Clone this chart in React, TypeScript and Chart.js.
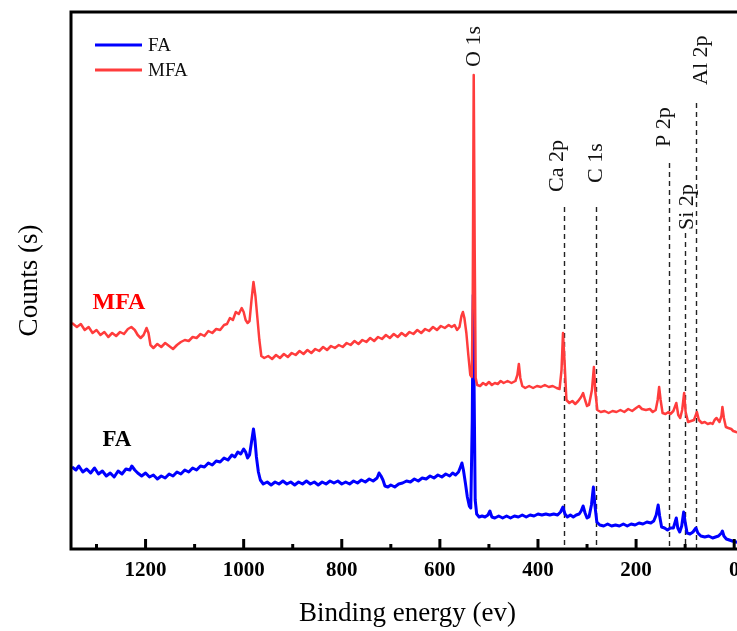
import React, { useEffect, useRef } from "react";
import { Chart, registerables } from "chart.js";

Chart.register(...registerables);

// ---------- DATA ----------
const ENERGY_MFA = [
  1350, 1340, 1332, 1324, 1316, 1308, 1300, 1292, 1284, 1276, 1268, 1260, 1252, 1244, 1236, 1229, 1222, 1216, 1210, 1204,
  1198, 1194, 1190, 1184, 1176, 1168, 1160, 1152, 1144, 1136, 1128, 1120, 1112, 1104, 1096, 1088, 1080, 1072, 1064, 1056,
  1048, 1040, 1034, 1028, 1022, 1016, 1010, 1004, 1000, 996, 992, 988, 984, 980, 976, 972, 968, 964, 958, 950,
  942, 934, 926, 918, 910, 902, 894, 886, 878, 870, 862, 854, 846, 838, 830, 822, 814, 806, 798, 790,
  782, 774, 766, 758, 750, 742, 734, 726, 718, 710, 702, 694, 686, 678, 670, 662, 654, 646, 638, 630,
  622, 614, 606, 598, 590, 582, 576, 570, 565, 560, 556, 553, 550, 546, 542, 538, 535, 533, 531, 529,
  527, 524, 518, 512, 506, 500, 494, 488, 482, 476, 470, 462, 454, 446, 442, 439, 436, 432, 426, 418,
  410, 402, 394, 386, 378, 370, 362, 356, 352, 349, 346, 342, 336, 330, 324, 318, 312, 308, 304, 300,
  296, 290, 286, 283, 279, 272, 264, 256, 248, 240, 232, 224, 216, 208, 200, 194, 188, 180, 172, 166,
  160, 156, 153, 150, 146, 140, 134, 130, 124, 118, 114, 110, 106, 102, 99, 94, 88, 82, 76, 72,
  66, 60, 54, 48, 44, 40, 36, 30, 26, 24, 21, 17, 12, 6, 2, -4, -12, -20,
];
const COUNTS_MFA = [
  226, 222, 225, 219, 222, 216, 219, 214, 217, 212, 216, 213, 217, 215, 220, 222, 219, 214, 211, 214,
  221, 216, 204, 201, 205, 202, 206, 203, 200, 204, 207, 209, 208, 212, 211, 215, 213, 218, 216, 220,
  219, 224, 225, 231, 229, 237, 235, 241, 237, 229, 226, 228, 249, 267, 253, 231, 209, 193, 191, 193,
  190, 194, 191, 195, 192, 196, 194, 198, 195, 199, 196, 200, 198, 202, 199, 203, 201, 204, 202, 206,
  204, 208, 205, 209, 207, 211, 208, 212, 210, 214, 211, 215, 212, 216, 213, 217, 215, 219, 216, 220,
  218, 222, 219, 223, 221, 224, 222, 224, 219, 222, 233, 237, 231, 216, 194, 174, 172, 249, 474, 299,
  171, 164, 163, 166, 164, 167, 164, 166, 165, 168, 166, 168, 166, 168, 174, 185, 171, 163, 161, 163,
  161, 163, 162, 164, 162, 163, 161, 160, 179, 216, 189, 149, 146, 148, 145, 148, 152, 156, 149, 143,
  144, 159, 182, 157, 139, 137, 138, 136, 138, 137, 139, 137, 140, 138, 141, 143, 140, 139, 140, 137,
  139, 149, 162, 149, 136, 135, 137, 135, 138, 146, 134, 131, 139, 156, 137, 127, 128, 129, 137, 129,
  126, 127, 125, 126, 125, 129, 131, 127, 133, 142, 131, 122, 121, 120, 118, 117, 116, 116,
];

const ENERGY_FA = [
  1350, 1342, 1336, 1328, 1320, 1312, 1304, 1296, 1288, 1280, 1272, 1264, 1256, 1248, 1240, 1232, 1228, 1222, 1216, 1208,
  1200, 1192, 1184, 1176, 1168, 1160, 1152, 1144, 1136, 1128, 1120, 1112, 1104, 1096, 1088, 1080, 1072, 1064, 1056, 1048,
  1040, 1032, 1024, 1018, 1012, 1006, 1000, 996, 992, 988, 984, 980, 977, 974, 970, 966, 960, 952, 944, 936,
  928, 920, 912, 904, 896, 888, 880, 872, 864, 856, 848, 840, 832, 824, 816, 808, 800, 792, 784, 776,
  768, 760, 752, 744, 736, 728, 724, 720, 716, 712, 706, 700, 692, 684, 676, 668, 660, 652, 644, 636,
  628, 620, 612, 604, 596, 588, 580, 574, 568, 562, 558, 555, 552, 548, 544, 540, 537, 534, 532, 530,
  528, 525, 520, 514, 508, 502, 498, 494, 488, 480, 472, 464, 456, 448, 440, 432, 424, 416, 408, 400,
  392, 384, 376, 368, 360, 354, 349, 345, 340, 334, 328, 322, 316, 312, 308, 304, 300, 296, 291, 287,
  284, 280, 274, 266, 258, 250, 242, 234, 226, 218, 210, 202, 194, 186, 178, 170, 164, 159, 155, 152,
  148, 142, 136, 130, 124, 118, 115, 111, 107, 103, 100, 96, 90, 84, 78, 74, 68, 60, 52, 44,
  38, 32, 26, 24, 21, 16, 10, 4, -4, -12, -20,
];
const COUNTS_FA = [
  82, 79, 83, 77, 80, 76, 81, 75, 78, 73, 76, 72, 78, 75, 80, 79, 83, 79, 76, 73,
  76, 72, 74, 70, 73, 71, 75, 73, 77, 75, 79, 77, 81, 79, 83, 82, 86, 84, 88, 87,
  91, 89, 94, 92, 97, 95, 100, 97, 91, 94, 107, 120, 109, 92, 77, 69, 65, 67, 64, 67,
  65, 68, 65, 67, 64, 67, 65, 68, 65, 67, 64, 67, 65, 68, 66, 68, 65, 67, 65, 68,
  66, 69, 67, 70, 68, 71, 76, 73, 69, 63, 62, 64, 62, 65, 66, 68, 67, 70, 68, 71,
  70, 73, 71, 74, 72, 75, 73, 76, 74, 77, 82, 86, 79, 66, 52, 43, 41, 129, 254, 149,
  49, 35, 32, 33, 32, 34, 38, 32, 31, 33, 31, 33, 31, 33, 32, 34, 32, 34, 33, 35,
  34, 35, 34, 35, 34, 37, 42, 35, 32, 34, 32, 34, 35, 38, 43, 36, 31, 32, 44, 62,
  44, 27, 24, 23, 25, 23, 24, 23, 25, 23, 25, 24, 26, 25, 27, 26, 28, 34, 44, 33,
  22, 21, 19, 21, 21, 31, 21, 17, 23, 37, 27, 16, 15, 17, 21, 16, 13, 12, 13, 11,
  12, 13, 16, 18, 13, 10, 9, 8, 7, 6, 6,
];

const SERIES_NAMES = ["FA", "MFA"];
const X_MIN = -20;
const X_MAX = 1352;
const Y_MIN = 0;
const Y_MAX = 537;
const X_MAJOR_TICKS = [0, 200, 400, 600, 800, 1000, 1200];
const X_MINOR_TICKS = [100, 300, 500, 700, 900, 1100, 1300];

const PEAK_NAMES = ["Ca 2p", "C 1s", "P 2p", "Si 2p", "Al 2p"];
const PEAK_ENERGY = [347, 282, 132, 101, 77];
const PEAK_LINE_TOP = [342, 342, 386, 316, 446];

const LABEL_NAMES = ["O 1s", "Ca 2p", "C 1s", "P 2p", "Si 2p", "Al 2p"];
const LABEL_ENERGY = [531, 360, 281, 143, 96, 67];
const LABEL_START = [482, 357, 366, 402, 319, 464];

// ---------- STYLE ----------
const SERIF = "'Liberation Serif', 'Times New Roman', serif";
const BLUE = "#0000ff";
const RED = "#ff3c3c";

const decorPlugin = {
  id: "decor",
  beforeDatasetsDraw(chart: any) {
    const { ctx, chartArea, scales } = chart;
    const xs = scales.x;
    const ys = scales.y;
    ctx.save();
    ctx.strokeStyle = "#222";
    ctx.lineWidth = 1.4;
    ctx.setLineDash([5, 4]);
    PEAK_ENERGY.forEach((e, i) => {
      const px = Math.round(xs.getPixelForValue(e)) + 0.5;
      ctx.beginPath();
      ctx.moveTo(px, ys.getPixelForValue(PEAK_LINE_TOP[i]));
      ctx.lineTo(px, chartArea.bottom);
      ctx.stroke();
    });
    ctx.setLineDash([]);
    ctx.fillStyle = "#111";
    ctx.font = `22px ${SERIF}`;
    ctx.textAlign = "left";
    ctx.textBaseline = "middle";
    LABEL_NAMES.forEach((name, i) => {
      ctx.save();
      ctx.translate(xs.getPixelForValue(LABEL_ENERGY[i]), ys.getPixelForValue(LABEL_START[i]));
      ctx.rotate(-Math.PI / 2);
      ctx.fillText(name, 0, 0);
      ctx.restore();
    });
    ctx.restore();
  },
  afterDatasetsDraw(chart: any) {
    const { ctx, chartArea, scales } = chart;
    const xs = scales.x;
    const ys = scales.y;
    ctx.save();
    // frame
    ctx.strokeStyle = "#000";
    ctx.lineWidth = 3;
    ctx.strokeRect(chartArea.left, chartArea.top, chartArea.right - chartArea.left, chartArea.bottom - chartArea.top);
    // inward ticks
    ctx.lineWidth = 3;
    X_MAJOR_TICKS.forEach((v) => {
      const px = xs.getPixelForValue(v);
      ctx.beginPath();
      ctx.moveTo(px, chartArea.bottom);
      ctx.lineTo(px, chartArea.bottom - 10);
      ctx.stroke();
    });
    X_MINOR_TICKS.forEach((v) => {
      const px = xs.getPixelForValue(v);
      ctx.beginPath();
      ctx.moveTo(px, chartArea.bottom);
      ctx.lineTo(px, chartArea.bottom - 5);
      ctx.stroke();
    });
    // legend
    const lx = chartArea.left + 24;
    const rows = [
      { name: SERIES_NAMES[0], color: BLUE, y: chartArea.top + 33 },
      { name: SERIES_NAMES[1], color: RED, y: chartArea.top + 58 },
    ];
    ctx.font = `19px ${SERIF}`;
    ctx.textAlign = "left";
    ctx.textBaseline = "middle";
    rows.forEach((r) => {
      ctx.strokeStyle = r.color;
      ctx.lineWidth = 3;
      ctx.beginPath();
      ctx.moveTo(lx, r.y);
      ctx.lineTo(lx + 47, r.y);
      ctx.stroke();
      ctx.fillStyle = "#111";
      ctx.fillText(r.name, lx + 53, r.y + 1);
    });
    // series labels
    ctx.font = `bold 24px ${SERIF}`;
    ctx.fillStyle = "#ff0000";
    ctx.fillText(SERIES_NAMES[1], xs.getPixelForValue(1308), ys.getPixelForValue(246));
    ctx.font = `bold 23px ${SERIF}`;
    ctx.fillStyle = "#000";
    ctx.fillText(SERIES_NAMES[0], xs.getPixelForValue(1288), ys.getPixelForValue(109));
    ctx.restore();
  },
};

export default function App() {
  const ref = useRef<HTMLCanvasElement | null>(null);
  useEffect(() => {
    if (!ref.current) return;
    const mfa = ENERGY_MFA.map((x, i) => ({ x, y: COUNTS_MFA[i] }));
    const fa = ENERGY_FA.map((x, i) => ({ x, y: COUNTS_FA[i] }));
    const chart = new Chart(ref.current, {
      type: "line",
      data: {
        datasets: [
          { label: SERIES_NAMES[1], data: mfa, borderColor: RED, borderWidth: 2.5, pointRadius: 0, tension: 0, order: 0, borderJoinStyle: "round" },
          { label: SERIES_NAMES[0], data: fa, borderColor: BLUE, borderWidth: 3, pointRadius: 0, tension: 0, order: 1, borderJoinStyle: "round" },
        ],
      },
      options: {
        animation: false,
        responsive: false,
        devicePixelRatio: 1,
        layout: { padding: { top: 12, right: 4, left: 0, bottom: 0 } },
        plugins: { legend: { display: false }, tooltip: { enabled: false } },
        scales: {
          x: {
            type: "linear",
            reverse: true,
            min: X_MIN,
            max: X_MAX,
            grid: { display: false, drawTicks: false },
            border: { display: false },
            afterBuildTicks: (scale: any) => {
              scale.ticks = X_MAJOR_TICKS.map((v) => ({ value: v }));
            },
            afterFit: (scale: any) => {
              scale.height = 82;
            },
            ticks: {
              autoSkip: false,
              maxRotation: 0,
              padding: 9,
              color: "#000",
              font: { family: SERIF, size: 21, weight: "bold" },
              callback: (v: any) => String(v),
            },
            title: {
              display: true,
              text: "Binding energy (ev)",
              color: "#000",
              font: { family: SERIF, size: 27 },
              padding: { top: 0, bottom: 1 },
            },
          },
          y: {
            type: "linear",
            min: Y_MIN,
            max: Y_MAX,
            grid: { display: false, drawTicks: false },
            border: { display: false },
            ticks: { display: false },
            afterFit: (scale: any) => {
              scale.width = 71;
            },
            title: {
              display: true,
              text: "Counts (s)",
              color: "#000",
              font: { family: SERIF, size: 27 },
              padding: { top: 14, bottom: 0 },
            },
          },
        },
      },
      plugins: [decorPlugin],
    } as any);
    return () => chart.destroy();
  }, []);
  return (
    <div style={{ position: "fixed", left: 0, top: 0, width: 737, height: 631, overflow: "hidden", background: "#fff" }}>
      <canvas ref={ref} width={748} height={631} style={{ display: "block", width: 748, height: 631 }} />
    </div>
  );
}
